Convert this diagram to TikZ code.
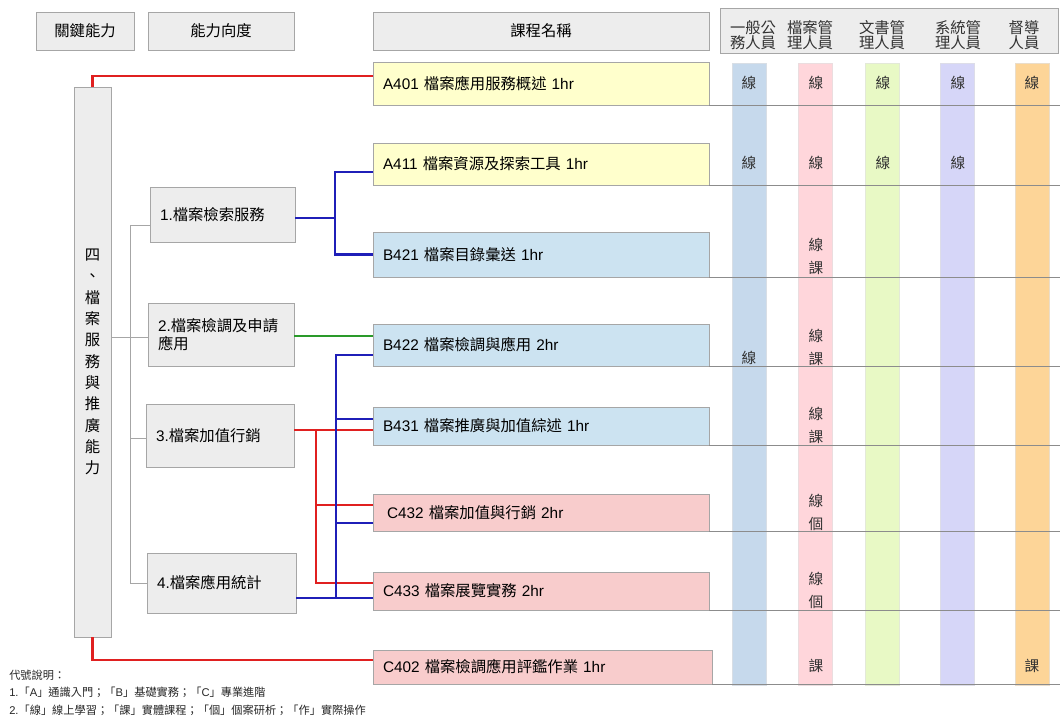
\documentclass[tikz,border=0pt]{standalone}
\usepackage{fontspec}
\setmainfont{Noto Sans CJK TC}
\newfontfamily\lat{Liberation Sans}
\usetikzlibrary{calc}
\definecolor{boxfill}{HTML}{EDEDED}
\definecolor{boxline}{HTML}{A6A6A6}
\definecolor{cyellow}{HTML}{FFFFCC}
\definecolor{cblue}{HTML}{CCE3F1}
\definecolor{cpink}{HTML}{F8CCCC}
\definecolor{bar1}{HTML}{C6D9EC}
\definecolor{bar2}{HTML}{FFD6DB}
\definecolor{bar3}{HTML}{E8F9C5}
\definecolor{bar4}{HTML}{D6D6F8}
\definecolor{bar5}{HTML}{FDD598}
\definecolor{linered}{HTML}{E02020}
\definecolor{lineblue}{HTML}{1F1FB8}
\definecolor{linegreen}{HTML}{2A9A2A}
\definecolor{sepgray}{HTML}{8C8C8C}
\begin{document}
\begin{tikzpicture}[x=0.75pt,y=-0.75pt,
  graybox/.style={draw=boxline, fill=boxfill, line width=0.6pt, inner sep=0pt, font=\fontsize{11.5}{13}\selectfont},
  dimbox/.style={graybox, align=left, inner xsep=7.5pt, text width=#1},
  course/.style={draw=boxline, line width=0.6pt, inner xsep=7.5pt, inner ysep=0pt, align=left, text width=237pt, minimum height=#1, font=\fontsize{11.5}{13}\selectfont},
  colbar/.style={draw=#1!80!black!40, fill=#1, line width=0.4pt, minimum width=25.5pt, minimum height=466.5pt, inner sep=0pt},
  cell/.style={align=center, inner sep=0pt, font=\fontsize{11}{17.25}\selectfont, text=black!80},
  hlabel/.style={align=center, inner sep=0pt, font=\fontsize{11.5}{9.75}\selectfont, text=black!80},
  sep/.style={draw=sepgray, line width=0.6pt},
  grayl/.style={draw=boxline, line width=0.7pt},
  redl/.style={draw=linered, line width=1.6pt},
  bll/.style={draw=lineblue, line width=1.6pt},
  grl/.style={draw=linegreen, line width=1.6pt},
  legend/.style={anchor=west, inner sep=0pt, font=\fontsize{8.4}{10}\selectfont, text=black!85}
]
\useasboundingbox (0,0) rectangle (1060,718);

% header boxes
\node[graybox, minimum width=73.5pt, minimum height=28.5pt] (h1) at (85,31) {關鍵能力};
\node[graybox, minimum width=109.5pt, minimum height=28.5pt] (h2) at (221,31) {能力向度};
\node[graybox, minimum width=252pt, minimum height=28.5pt] (h3) at (541,31) {課程名稱};
\node[graybox, minimum width=253.5pt, minimum height=33.75pt] (h4) at (889,30.5) {};
\node[hlabel] (hl1) at (753,35) {一般公\\務人員};
\node[hlabel] (hl2) at (810,35) {檔案管\\理人員};
\node[hlabel] (hl3) at (882,35) {文書管\\理人員};
\node[hlabel] (hl4) at (958,35) {系統管\\理人員};
\node[hlabel] (hl5) at (1024,35) {督導\\人員};

% column bars
\node[colbar=bar1] (b1) at (749,374) {};
\node[colbar=bar2] (b2) at (815,374) {};
\node[colbar=bar3] (b3) at (882.5,374) {};
\node[colbar=bar4] (b4) at (957.5,374) {};
\node[colbar=bar5] (b5) at (1032,374) {};

% key ability box
\node[graybox, minimum width=27.75pt, minimum height=412.5pt, align=center, font=\fontsize{11.5}{16}\selectfont] (key) at (92.5,362)
  {四\\、\\檔\\案\\服\\務\\與\\推\\廣\\能\\力};

% dimension boxes
\node[dimbox=93.75pt, minimum height=41.25pt] (d1) at (222.5,214.5) {{\lat 1.}檔案檢索服務};
\node[dimbox=94.5pt, minimum height=47.25pt, font=\fontsize{11.5}{13.5}\selectfont] (d2) at (221,334.5) {{\lat 2.}檔案檢調及申請\\應用};
\node[dimbox=96pt, minimum height=47.25pt] (d3) at (220,435.5) {{\lat 3.}檔案加值行銷};
\node[dimbox=96.75pt, minimum height=45pt] (d4) at (221.5,583) {{\lat 4.}檔案應用統計};

% courses
\node[course=32.25pt, fill=cyellow] (a401) at (541,83.5) {{\lat A401} 檔案應用服務概述 {\lat 1hr}};
\node[course=31.5pt, fill=cyellow] (a411) at (541,164) {{\lat A411} 檔案資源及探索工具 {\lat 1hr}};
\node[course=33.75pt, fill=cblue] (b421) at (541,254.5) {{\lat B421} 檔案目錄彙送 {\lat 1hr}};
\node[course=31.5pt, fill=cblue] (b422) at (541,345) {{\lat B422} 檔案檢調與應用 {\lat 2hr}};
\node[course=28.5pt, fill=cblue] (b431) at (541,426) {{\lat B431} 檔案推廣與加值綜述 {\lat 1hr}};
\node[course=27.75pt, fill=cpink] (c432) at (541,512.5) {\hspace{3pt}{\lat C432} 檔案加值與行銷 {\lat 2hr}};
\node[course=28.5pt, fill=cpink] (c433) at (541,591) {{\lat C433} 檔案展覽實務 {\lat 2hr}};
\node[course=25.5pt, fill=cpink, text width=239.25pt] (c402) at (542.5,667) {{\lat C402} 檔案檢調應用評鑑作業 {\lat 1hr}};

% row separators
\coordinate (re) at (1060,0);
\foreach \c in {a401,a411,b421,b422,b431,c432,c433,c402}
  \draw[sep] (\c.south east) -- (\c.south east -| re);

% cell marks
\node[cell] (m11) at (749,83) {線};
\node[cell] (m12) at (816,83) {線};
\node[cell] (m13) at (883,83) {線};
\node[cell] (m14) at (958,83) {線};
\node[cell] (m15) at (1032,83) {線};
\node[cell] (m21) at (749,163) {線};
\node[cell] (m22) at (816,163) {線};
\node[cell] (m23) at (883,163) {線};
\node[cell] (m24) at (958,163) {線};
\node[cell] (m32) at (816,256.5) {線\\課};
\node[cell] (m41) at (749,358) {線};
\node[cell] (m42) at (816,347) {線\\課};
\node[cell] (m52) at (816,425.5) {線\\課};
\node[cell] (m62) at (816,512) {線\\個};
\node[cell] (m72) at (816,590.5) {線\\個};
\node[cell] (m82) at (816,666) {課};
\node[cell] (m85) at (1032,666) {課};

% gray tree
\coordinate (tt) at (130,225);
\coordinate (tb) at (130,583);
\draw[grayl] (tt) -- (tb);
\draw[grayl] (tt) -- (d1.west |- tt);
\draw[grayl] ($(key.east)+(0,-25)$) -- ($(d2.west)+(0,2.5)$);
\path ($(d3.west)+(0,2.5)$) coordinate (d3w);
\draw[grayl] (d3w) -- (tt |- d3w);
\draw[grayl] (d4.west) -- (tb);

% red top and bottom
\draw[redl] (key.north) |- ($(a401.west)+(0,-7.5)$);
\draw[redl] (key.south) |- ($(c402.west)+(0,-7)$);

% blue from d1
\draw[bll] ($(d1.east)+(0,3.5)$) -- ++(40,0) coordinate (j1);
\draw[bll] ($(a411.west)+(0,8)$) -| (j1) |- (b421.west);

% green from d2
\draw[grl] ($(d2.east)+(0,1.5)$) -- ($(b422.west)+(0,-9)$);

% red from d3
\path ($(d3.east)+(0,-5.5)$) coordinate (d3e) -- ++(22,0) coordinate (rj);
\path ($(c432.west)+(0,-7.5)$) coordinate (f1) ($(c433.west)+(0,-8)$) coordinate (f2);
\draw[redl] (d3e) -- ($(b431.west)+(0,4)$);
\draw[redl] (rj) |- (f2);
\draw[redl] (f1) -- (f1 -| rj);

% blue from d4
\path ($(d4.east)+(0,15)$) coordinate (d4e) -- ++(40,0) coordinate (bj);
\path ($(b422.west)+(0,10)$) coordinate (e1) ($(b431.west)+(0,-7)$) coordinate (e2) ($(c432.west)+(0,10.5)$) coordinate (e3);
\draw[bll] (d4e) -- ($(c433.west)+(0,7)$);
\draw[bll] (e1) -| (bj);
\draw[bll] (e2) -- (e2 -| bj);
\draw[bll] (e3) -- (e3 -| bj);

% legend
\node[legend] (lg0) at (9,675) {代號說明：};
\node[legend] (lg1) at (9,692) {{\lat 1.}「{\lat A}」通識入門；「{\lat B}」基礎實務；「{\lat C}」專業進階};
\node[legend] (lg2) at (9,710) {{\lat 2.}「線」線上學習；「課」實體課程；「個」個案研析；「作」實際操作};
\end{tikzpicture}
\end{document}
